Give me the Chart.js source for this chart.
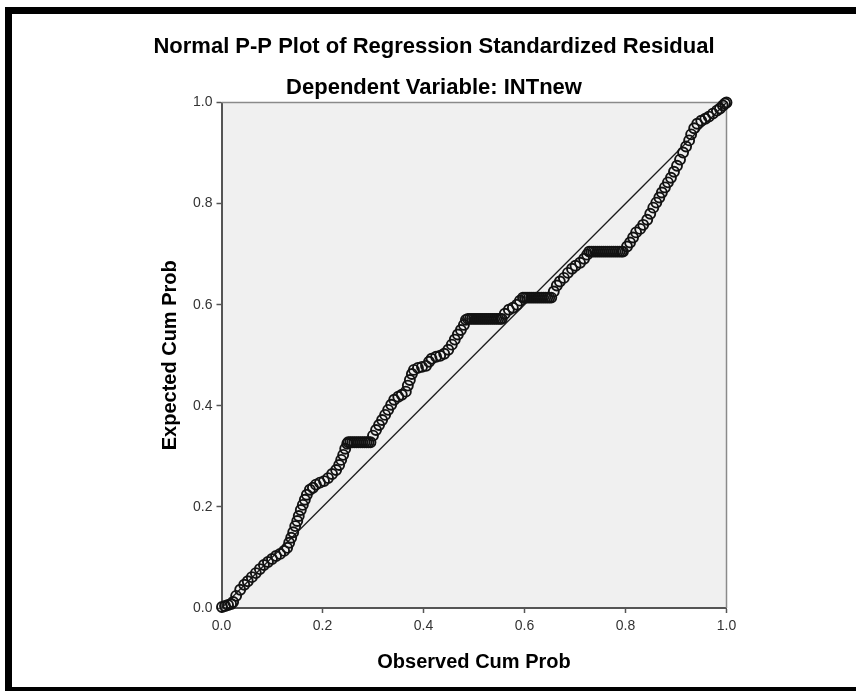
<!DOCTYPE html>
<html><head><meta charset="utf-8">
<script src="https://cdn.jsdelivr.net/npm/chart.js@4.4.1/dist/chart.umd.min.js"></script>
<style>
html,body{margin:0;padding:0;background:#fff;}
#wrap{position:absolute;left:0;top:0;width:856px;height:691px;}
</style></head><body>
<div id="wrap"><canvas id="c" width="856" height="691"></canvas></div>
<script>
const chartTitle = "Normal P-P Plot of Regression Standardized Residual";
const chartSubtitle = "Dependent Variable: INTnew";
const xAxisTitle = "Observed Cum Prob";
const yAxisTitle = "Expected Cum Prob";
const axisTicks = [0.0, 0.2, 0.4, 0.6, 0.8, 1.0];

const observedCumProb = [
0.001,0.007,0.013,0.019,0.023,
0.029,0.037,0.045,0.052,0.060,0.068,0.076,0.084,0.092,0.100,0.108,0.116,0.124,0.130,
0.134,0.138,0.142,0.146,0.150,0.153,0.157,0.161,0.165,0.169,0.175,0.181,0.187,0.195,0.203,0.211,0.219,0.227,0.233,0.237,0.241,0.245,0.249,
0.251,0.255,0.259,0.263,0.267,0.271,0.275,0.279,0.283,0.287,0.291,0.295,
0.300,0.306,0.312,0.318,0.324,0.330,0.336,0.342,0.350,0.357,0.365,0.369,0.373,0.377,0.381,
0.389,0.397,0.405,0.411,0.416,0.425,0.433,0.441,0.449,0.456,0.462,0.468,0.474,0.480,0.484,
0.488,0.492,0.496,0.500,0.504,0.508,0.512,0.516,0.520,0.524,0.528,0.532,0.536,0.540,0.544,0.548,0.552,0.555,
0.561,0.569,0.577,0.585,0.591,0.597,
0.601,0.605,0.609,0.613,0.617,0.621,0.625,0.629,0.633,0.637,0.641,0.645,0.649,0.653,
0.658,0.664,0.670,0.678,0.686,0.694,0.701,0.710,0.718,0.724,
0.728,0.732,0.736,0.740,0.744,0.748,0.752,0.756,0.760,0.764,0.768,0.772,0.776,0.780,0.784,0.788,0.792,0.795,
0.803,0.809,0.815,0.821,0.829,0.835,0.843,0.849,0.855,0.861,0.867,0.872,0.878,0.884,0.890,0.896,0.902,0.908,0.914,0.920,0.926,0.930,0.936,0.942,0.950,0.958,0.965,0.973,0.981,0.987,0.993,0.997,1.000
];

const expectedCumProb = [
0.002,0.004,0.006,0.008,0.012,
0.024,0.036,0.046,0.053,0.061,0.069,0.077,0.085,0.091,0.097,0.103,0.107,0.113,0.119,
0.129,0.139,0.150,0.162,0.172,0.182,0.194,0.204,0.214,0.224,0.234,0.238,0.244,0.248,0.251,0.257,0.265,0.273,0.283,0.293,0.303,0.315,0.325,
0.328,0.328,0.328,0.328,0.328,0.328,0.328,0.328,0.328,0.328,0.328,0.328,
0.341,0.352,0.362,0.372,0.382,0.392,0.402,0.412,0.418,0.422,0.428,0.440,0.451,0.463,0.471,
0.475,0.477,0.479,0.487,0.493,0.497,0.499,0.503,0.511,0.521,0.531,0.541,0.550,0.560,0.570,
0.572,0.572,0.572,0.572,0.572,0.572,0.572,0.572,0.572,0.572,0.572,0.572,0.572,0.572,0.572,0.572,0.572,0.572,
0.582,0.590,0.594,0.600,0.608,0.614,
0.614,0.614,0.614,0.614,0.614,0.614,0.614,0.614,0.614,0.614,0.614,0.614,0.614,0.614,
0.626,0.638,0.646,0.653,0.663,0.671,0.677,0.683,0.691,0.699,
0.705,0.705,0.705,0.705,0.705,0.705,0.705,0.705,0.705,0.705,0.705,0.705,0.705,0.705,0.705,0.705,0.705,0.705,
0.715,0.723,0.733,0.743,0.750,0.758,0.768,0.780,0.792,0.802,0.812,0.822,0.832,0.842,0.851,0.863,0.875,0.887,0.901,0.913,0.925,0.937,0.949,0.958,0.964,0.968,0.972,0.978,0.984,0.988,0.994,0.998,1.000
];

const referenceLineX = [0.0, 1.0];
const referenceLineY = [0.0, 1.0];

const pointData = observedCumProb.map((x, i) => ({ x: x, y: expectedCumProb[i] }));
const lineData = referenceLineX.map((x, i) => ({ x: x, y: referenceLineY[i] }));

const FONT = "'Liberation Sans', Arial, sans-serif";

const framePlugin = {
  id: 'frame',
  beforeDraw(chart) {
    const ctx = chart.ctx, a = chart.chartArea;
    ctx.save();
    ctx.fillStyle = '#ffffff';
    ctx.fillRect(0, 0, chart.width, chart.height);
    ctx.fillStyle = '#000000';
    ctx.fillRect(5, 7, chart.width - 5, 7);
    ctx.fillRect(5, 7, 7, chart.height - 7);
    ctx.fillRect(5, 687, chart.width - 5, 4);
    ctx.fillStyle = '#f0f0f0';
    ctx.fillRect(a.left, a.top, a.right - a.left, a.bottom - a.top);
    ctx.restore();
  },
  beforeDatasetsDraw(chart) {
    const ctx = chart.ctx, a = chart.chartArea;
    ctx.save();
    ctx.strokeStyle = '#8a8a8a';
    ctx.lineWidth = 1.5;
    ctx.beginPath();
    ctx.moveTo(a.left, a.top);
    ctx.lineTo(a.right, a.top);
    ctx.lineTo(a.right, a.bottom);
    ctx.stroke();
    ctx.restore();
  }
};

new Chart(document.getElementById('c'), {
  type: 'scatter',
  data: {
    datasets: [
      {
        label: 'Observed',
        data: pointData,
        pointRadius: 5,
        pointHoverRadius: 5,
        pointBorderWidth: 1.9,
        borderColor: '#121212',
        backgroundColor: 'rgba(0,0,0,0)',
        pointStyle: 'circle',
        clip: false,
        order: 0
      },
      {
        type: 'line',
        label: 'Reference',
        data: lineData,
        borderColor: '#1a1a1a',
        borderWidth: 1.3,
        pointRadius: 0,
        fill: false,
        tension: 0,
        order: 1
      }
    ]
  },
  options: {
    responsive: false,
    devicePixelRatio: 1,
    animation: false,
    events: [],
    layout: { padding: { left: 141.5, right: 129.5, top: 0, bottom: 0 } },
    plugins: {
      legend: { display: false },
      tooltip: { enabled: false },
      title: {
        display: true,
        text: chartTitle,
        color: '#000',
        font: { family: FONT, size: 22, weight: 'bold' },
        padding: { top: 33.8, bottom: 0 }
      },
      subtitle: {
        display: true,
        text: chartSubtitle,
        color: '#000',
        font: { family: FONT, size: 22, weight: 'bold' },
        padding: { top: 14.6, bottom: 1.3 }
      }
    },
    scales: {
      x: {
        type: 'linear',
        min: 0, max: 1,
        afterBuildTicks(scale) { scale.ticks = axisTicks.map(v => ({ value: v })); },
        afterFit(scale) { scale.height = 83; },
        ticks: {
          color: '#333',
          font: { family: FONT, size: 14 },
          padding: 4.6,
          callback: v => Number(v).toFixed(1)
        },
        grid: { display: true, drawOnChartArea: false, drawTicks: true, tickLength: 5, tickColor: '#555', tickWidth: 1.5 },
        border: { display: true, color: '#555', width: 2 },
        title: {
          display: true,
          text: xAxisTitle,
          color: '#000',
          font: { family: FONT, size: 20, weight: 'bold' },
          padding: { top: 0, bottom: 17 }
        }
      },
      y: {
        type: 'linear',
        min: 0, max: 1,
        afterBuildTicks(scale) { scale.ticks = axisTicks.map(v => ({ value: v })); },
        afterFit(scale) { scale.width = 80; },
        ticks: {
          color: '#333',
          font: { family: FONT, size: 14 },
          padding: 4,
          callback: v => Number(v).toFixed(1)
        },
        grid: { display: true, drawOnChartArea: false, drawTicks: true, tickLength: 5, tickColor: '#555', tickWidth: 1.5 },
        border: { display: true, color: '#555', width: 2 },
        title: {
          display: true,
          text: yAxisTitle,
          color: '#000',
          font: { family: FONT, size: 20, weight: 'bold' },
          padding: { top: 16.5, bottom: 0 }
        }
      }
    }
  },
  plugins: [framePlugin]
});
</script>
</body></html>
